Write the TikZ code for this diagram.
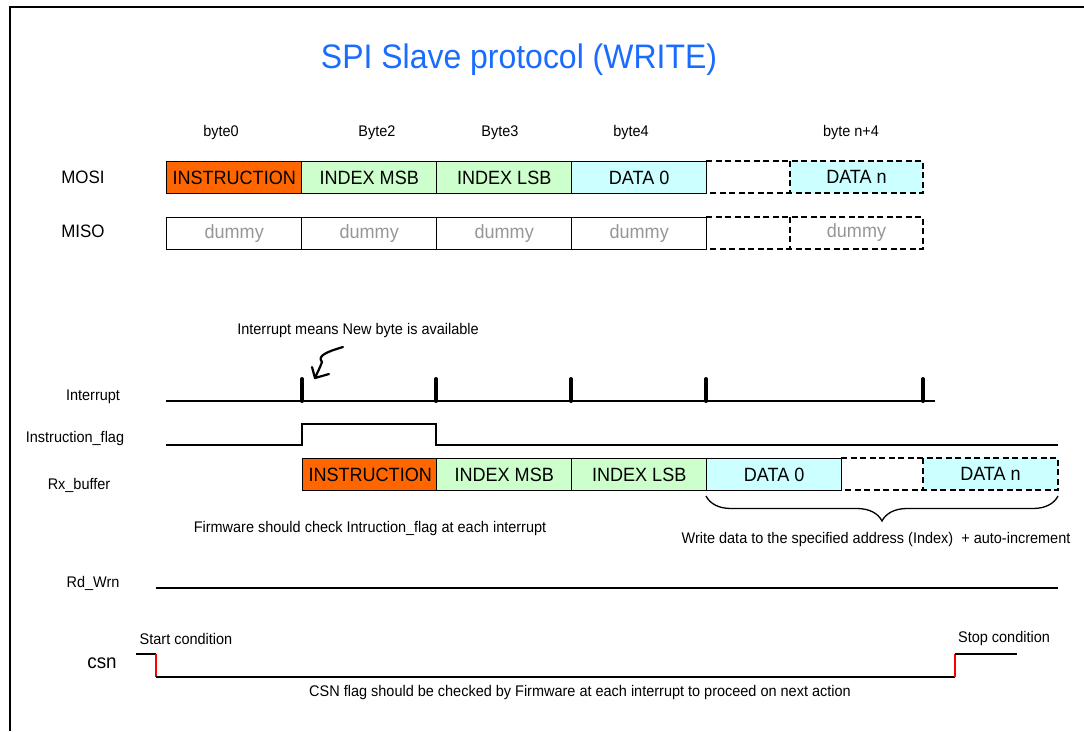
\documentclass[tikz,border=0pt]{standalone}
\usepackage{fontspec}
\setmainfont{Liberation Sans}[FakeStretch=0.94]
\usetikzlibrary{decorations.pathreplacing}
\definecolor{instr}{HTML}{FF6600}
\definecolor{indexc}{HTML}{CCFFCC}
\definecolor{datac}{HTML}{CCFFFF}
\definecolor{titleblue}{HTML}{1A6CFF}
\definecolor{dummyc}{HTML}{969696}
\definecolor{edgered}{HTML}{FF0000}
\begin{document}
\begin{tikzpicture}[x=1pt,y=-1pt,
  cell/.style={draw, line width=1.4pt, minimum width=135pt, minimum height=32pt,
    inner sep=0pt, anchor=north west, font=\fontsize{19.2}{21}\selectfont},
  dummycell/.style={cell, text=dummyc},
  boxtext/.style={inner sep=0pt, font=\fontsize{19.2}{21}\selectfont},
  dashbox/.style={line width=2pt, dash pattern=on 6pt off 3.5pt},
  small/.style={inner sep=0pt, font=\fontsize{15.4}{17}\selectfont},
  sig/.style={line width=1.4pt},
  tick/.style={line width=4pt, line cap=round},
  siglabel/.style={inner sep=0pt, font=\fontsize{15.4}{17}\selectfont},
  biglabel/.style={inner sep=0pt, font=\fontsize{18}{20}\selectfont}]
\useasboundingbox (0,0) rectangle (1084,731);

% frame
\draw[line width=2pt] (10,731) -- (10,7) -- (1084,7);

% title
\node[text=titleblue, inner sep=0pt, font=\fontsize{34}{38}\selectfont] (title) at (519,60) {SPI Slave protocol (WRITE)};

% byte labels
\node[small] (b0) at (221,133) {byte0};
\node[small] (b2) at (377,133) {Byte2};
\node[small] (b3) at (500,133) {Byte3};
\node[small] (b4) at (631,133) {byte4};
\node[small] (bn) at (851,133) {byte n+4};

% MOSI row
\node[biglabel] (mosi) at (83,177) {MOSI};
\node[cell, fill=instr] (m1) at (166,161) {INSTRUCTION};
\node[cell, fill=indexc] (m2) at (301,161) {INDEX MSB};
\node[cell, fill=indexc] (m3) at (436,161) {INDEX LSB};
\node[cell, fill=datac] (m4) at (571,161) {DATA 0};
\fill[datac] (790,161) rectangle (923,193);
\node[boxtext] (m6) at (856.5,177) {DATA n};
\draw[dashbox] (706,161) -- (923,161) -- (923,193) -- (706,193);
\draw[dashbox] (790,161) -- (790,193);

% MISO row
\node[biglabel] (miso) at (83,231) {MISO};
\node[dummycell] (s1) at (166,217) {dummy};
\node[dummycell] (s2) at (301,217) {dummy};
\node[dummycell] (s3) at (436,217) {dummy};
\node[dummycell] (s4) at (571,217) {dummy};
\node[boxtext, text=dummyc] (s6) at (856.5,233) {dummy};
\draw[dashbox] (706,217) -- (923,217) -- (923,249) -- (706,249);
\draw[dashbox] (790,217) -- (790,249);

% interrupt
\node[small] (note) at (358,331) {Interrupt means New byte is available};
\node[siglabel] (intl) at (93,397) {Interrupt};
\draw[sig] (166,401) -- (935,401);
\foreach \x in {302,436,571,706,923} \draw[tick] (\x,379) -- (\x,401);
\draw[line width=2.2pt, line cap=round, line join=round]
  (343,347) .. controls (326,352) and (317,356) .. (322,362) .. controls (320,368) and (317,373) .. (315,378);
\draw[line width=2.2pt, line cap=round, line join=round]
  (312,367) -- (315,378) -- (329,374);

% instruction flag
\node[siglabel] (flagl) at (75,439) {Instruction\_flag};
\draw[sig] (166,445) -- (302,445) -- (302,424) -- (436,424) -- (436,445) -- (1058,445);

% Rx buffer
\node[siglabel] (rxl) at (79,485) {Rx\_buffer};
\node[cell, fill=instr] (r1) at (302,458) {INSTRUCTION};
\node[cell, fill=indexc] (r2) at (436,458) {INDEX MSB};
\node[cell, fill=indexc] (r3) at (571,458) {INDEX LSB};
\node[cell, fill=datac] (r4) at (706,458) {DATA 0};
\fill[datac] (923,458) rectangle (1058,490);
\node[boxtext] (r6) at (990.5,474) {DATA n};
\draw[dashbox] (841,458) -- (1058,458) -- (1058,490) -- (841,490);
\draw[dashbox] (923,458) -- (923,490);

\node[small] (fwnote) at (370,529) {Firmware should check Intruction\_flag at each interrupt};
\draw[line width=1.3pt, decorate, decoration={brace, mirror, amplitude=25pt}] (706,496) -- (1058,496);
\node[small] (wrnote) at (876,540) {Write data to the specified address (Index) \ + auto-increment};

% Rd_Wrn
\node[siglabel] (rdl) at (93,583) {Rd\_Wrn};
\draw[sig] (156,588) -- (1058,588);

% csn
\node[small] (startc) at (186,639) {Start condition};
\node[small] (stopc) at (1004,639) {Stop condition};
\node[inner sep=0pt, font=\fontsize{20}{22}\selectfont] (csnl) at (102,663) {csn};
\draw[sig] (136,654) -- (156,654);
\draw[sig, edgered] (156,654) -- (156,677);
\draw[sig] (156,677) -- (955,677);
\draw[sig, edgered] (955,677) -- (955,654);
\draw[sig] (955,654) -- (1017,654);
\node[small] (csnnote) at (580,693) {CSN flag should be checked by Firmware at each interrupt to proceed on next action};
\end{tikzpicture}
\end{document}
